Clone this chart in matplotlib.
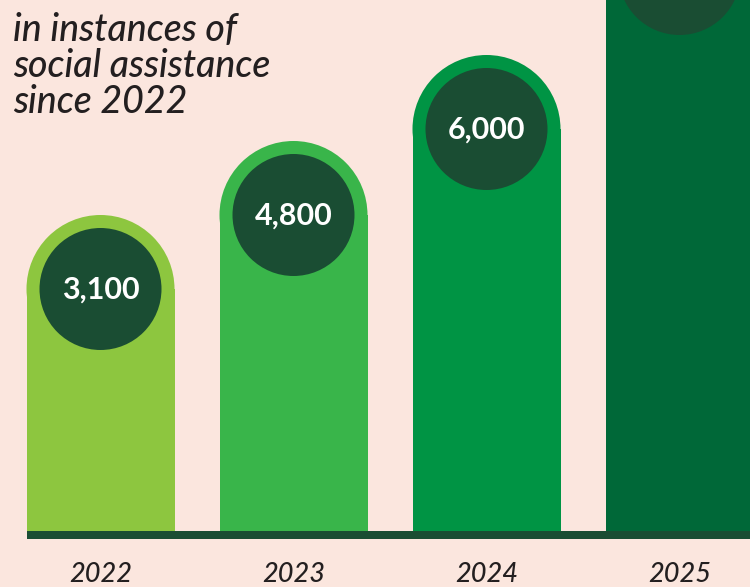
import matplotlib
matplotlib.use("Agg")
import matplotlib.pyplot as plt
from matplotlib.patches import Rectangle, Ellipse
import numpy as np

# ---- data ----
years = ["2022", "2023", "2024", "2025"]
value_labels = ["3,100", "4,800", "6,000", None]   # 2025 label is off-canvas
bar_heights = [316, 390, 476, 631]                  # visual bar heights (stylised)
bar_colors = ["#8dc63f", "#39b54a", "#009444", "#006838"]
title_lines = ["in instances of", "social assistance", "since 2022"]

# ---- style ----
BG = "#fbe6de"
CIRCLE = "#1a4d33"
W_PX, H_PX = 750, 587
SPACING_PX = 193.0        # px per category
FIRST_CENTER_PX = 100.5
BASE_PX = 531             # baseline (bar bottom) from top
BAR_W = 148 / SPACING_PX  # in category units
CAP_R = 74                # px
CIRC_R = 61               # px

fig = plt.figure(figsize=(W_PX / 100, H_PX / 100), dpi=100)
fig.patch.set_facecolor(BG)
ax = fig.add_axes([0, 0, 1, 1])
ax.set_facecolor(BG)
ax.set_xlim(-FIRST_CENTER_PX / SPACING_PX, (W_PX - FIRST_CENTER_PX) / SPACING_PX)
ax.set_ylim(-(H_PX - BASE_PX), BASE_PX)
ax.axis("off")

x = np.arange(len(years))
for xi, h, c, lab in zip(x, bar_heights, bar_colors, value_labels):
    cy = h - CAP_R
    ax.add_patch(Rectangle((xi - BAR_W / 2, 0), BAR_W, cy, facecolor=c, edgecolor="none", zorder=2))
    ax.add_patch(Ellipse((xi, cy), BAR_W, 2 * CAP_R, facecolor=c, edgecolor="none", zorder=2))
    ax.add_patch(Ellipse((xi, cy), 2 * CIRC_R / SPACING_PX, 2 * CIRC_R,
                         facecolor=CIRCLE, edgecolor="none", zorder=3))
    if lab:
        ax.text(xi, cy - 1, lab, ha="center", va="center", color="white",
                fontsize=22, fontweight="bold", family="Lato", zorder=4)
    ax.text(xi, -44, years[xi], ha="center", va="center", color="#231f20",
            fontsize=19.5, style="italic", fontweight="medium", family="Lato", zorder=4)

# baseline
ax.add_patch(Rectangle((-BAR_W / 2, -8), 10, 8, facecolor=CIRCLE, edgecolor="none", zorder=3))

# title
for i, line in enumerate(title_lines):
    fig.text(13 / W_PX, 1 - (41 + 36 * i) / H_PX, line, ha="left", va="baseline",
             color="#231f20", fontsize=27, style="italic", fontweight="medium", family="Lato")

fig.savefig("out.png", dpi=100, facecolor=BG)
